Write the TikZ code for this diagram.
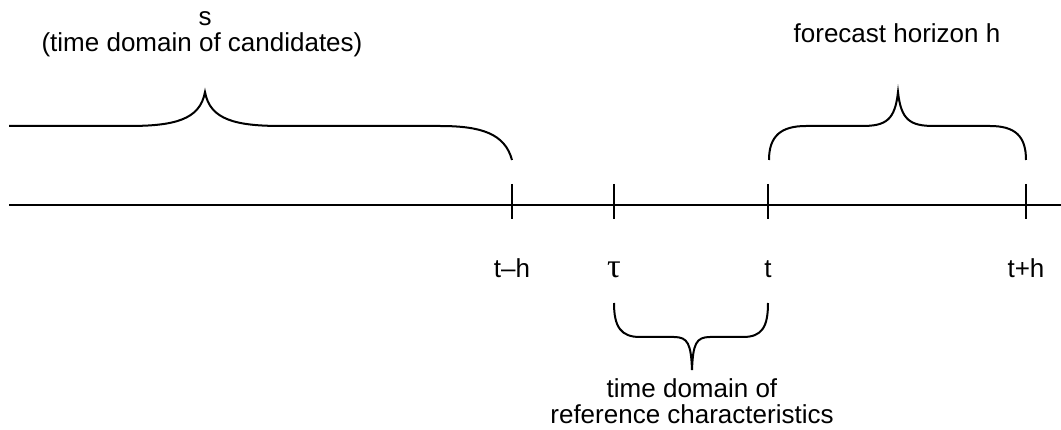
\documentclass[tikz,border=0pt]{standalone}
\usepackage{fontspec}
\setmainfont{Liberation Sans}
\newfontfamily\greekserif{Liberation Serif}
\begin{document}
\begin{tikzpicture}[x=1pt,y=-1pt,
  line/.style={line width=2pt},
  lbl/.style={font=\fontsize{26}{30}\selectfont, anchor=base, inner sep=0pt}]
\useasboundingbox (0,0) rectangle (1061,430);
% axis
\coordinate (L) at (9,205);
\coordinate (R) at (1061,205);
\draw[line] (L) -- (R);
% ticks
\foreach \n/\x in {th/512, tau/614, t/768, tph/1026}{
  \coordinate (\n top) at (\x,184);
  \coordinate (\n bot) at (\x,219);
  \draw[line] (\n top) -- (\n bot);
}
% tick labels
\node[lbl] (lth) at (512,278) {t–h};
\node[lbl] (ltau) at (614,278) {\greekserif\fontsize{34}{36}\selectfont τ};
\node[lbl] (lt) at (768,278) {t};
\node[lbl] (ltph) at (1026,278) {t+h};
% left brace (clipped at left)
\draw[line] (512,160) .. controls (505,134) and (482,126) .. (440,126) -- (282,126)
  .. controls (236,126) and (210,120) .. (205,92)
  .. controls (200,120) and (174,126) .. (128,126) -- (9,126);
% right brace
\draw[line] (769,160) .. controls (769,136) and (781,126) .. (806,126) -- (862,126)
  .. controls (886,126) and (895,120) .. (898,92)
  .. controls (901,120) and (910,126) .. (934,126) -- (990,126)
  .. controls (1015,126) and (1026,136) .. (1026,160);
% bottom brace
\draw[line] (614,303) .. controls (614,327) and (621,337) .. (640,337) -- (674,337)
  .. controls (688,337) and (691,344) .. (692,370)
  .. controls (693,344) and (696,337) .. (710,337) -- (743,337)
  .. controls (762,337) and (768,327) .. (768,303);
% texts
\node[lbl] (s1) at (205,26) {s};
\node[lbl] (s2) at (202,52) {(time domain of candidates)};
\node[lbl] (fh) at (897,43) {forecast horizon h};
\node[lbl] (r1) at (692,398) {time domain of};
\node[lbl] (r2) at (692,424) {reference characteristics};
\end{tikzpicture}
\end{document}
